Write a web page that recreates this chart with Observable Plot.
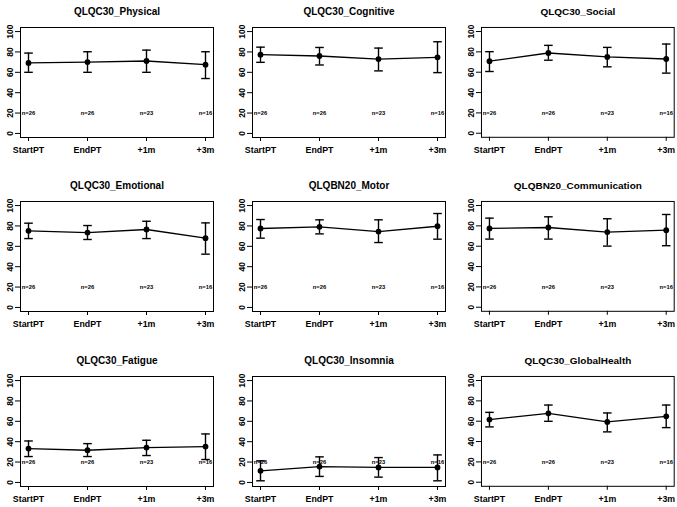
<!DOCTYPE html>
<html>
<head>
<meta charset="utf-8">
<script src="https://cdn.jsdelivr.net/npm/d3@7"></script>
<script src="https://cdn.jsdelivr.net/npm/@observablehq/plot@0.6"></script>
<style>
  html, body { margin: 0; padding: 0; background: #fff; }
  #chart { position: relative; width: 677px; height: 507px; overflow: hidden; background: #fff; }
  #chart > div { position: absolute; }
  svg { overflow: visible; }
</style>
</head>
<body>
<div id="chart"></div>
<script>
// ---- data ----
const timepoints = ["StartPT", "EndPT", "+1m", "+3m"];
const nCounts = [26, 26, 23, 16];
const nLabelY = 20;
const yTicks = [0, 20, 40, 60, 80, 100];

const panelTitles = [
  "QLQC30_Physical", "QLQC30_Cognitive", "QLQC30_Social",
  "QLQC30_Emotional", "QLQBN20_Motor", "QLQBN20_Communication",
  "QLQC30_Fatigue", "QLQC30_Insomnia", "QLQC30_GlobalHealth"
];

const physicalMean = [69.2, 70.1, 71.1, 67.5];
const physicalLo   = [60.0, 60.0, 60.0, 53.9];
const physicalHi   = [78.9, 80.2, 81.8, 80.2];

const cognitiveMean = [77.3, 76.0, 73.0, 74.7];
const cognitiveLo   = [69.8, 67.2, 61.4, 59.7];
const cognitiveHi   = [84.7, 84.4, 83.8, 90.0];

const socialMean = [70.8, 78.9, 75.0, 73.0];
const socialLo   = [60.7, 71.8, 65.3, 59.1];
const socialHi   = [80.2, 86.4, 84.4, 87.7];

const emotionalMean = [75.2, 73.5, 76.5, 68.0];
const emotionalLo   = [67.6, 66.7, 67.6, 52.3];
const emotionalHi   = [82.7, 80.4, 84.6, 83.0];

const motorMean = [77.5, 79.1, 74.5, 79.7];
const motorLo   = [68.0, 72.2, 63.7, 67.0];
const motorHi   = [86.3, 86.0, 86.0, 92.2];

const communicationMean = [77.5, 78.4, 73.9, 75.8];
const communicationLo   = [67.0, 67.0, 60.1, 60.5];
const communicationHi   = [87.6, 88.9, 87.0, 91.2];

const fatigueMean = [33.2, 31.6, 34.2, 35.2];
const fatigueLo   = [25.4, 25.4, 26.4, 22.5];
const fatigueHi   = [40.7, 38.1, 41.4, 47.6];

const insomniaMean = [11.4, 15.6, 14.7, 14.7];
const insomniaLo   = [1.6, 5.9, 5.2, 1.6];
const insomniaHi   = [21.2, 25.1, 24.4, 27.0];

const globalMean = [61.6, 67.8, 59.3, 64.8];
const globalLo   = [54.4, 59.9, 49.5, 53.7];
const globalHi   = [68.7, 75.9, 68.1, 75.9];

const panelSeries = [
  [physicalMean, physicalLo, physicalHi],
  [cognitiveMean, cognitiveLo, cognitiveHi],
  [socialMean, socialLo, socialHi],
  [emotionalMean, emotionalLo, emotionalHi],
  [motorMean, motorLo, motorHi],
  [communicationMean, communicationLo, communicationHi],
  [fatigueMean, fatigueLo, fatigueHi],
  [insomniaMean, insomniaLo, insomniaHi],
  [globalMean, globalLo, globalHi]
];

// ---- layout ----
const frameLefts = [19.5, 251.7, 481.3];
const frameTops = [26.5, 201, 375.5];
const frameW = 193, frameH = 110;
const mL = 22, mR = 3, mT = 28, mB = 26;

const FONT = "'Liberation Sans', Arial, Helvetica, sans-serif";

// horizontal cap symbol for error bars
const capSymbol = {
  draw(context, size) {
    const w = Math.sqrt(size / Math.PI);
    context.moveTo(-w, 0);
    context.lineTo(w, 0);
  }
};

const container = document.getElementById("chart");

panelTitles.forEach((title, i) => {
  const col = i % 3, row = Math.floor(i / 3);
  const [m, lo, hi] = panelSeries[i];
  const rows = timepoints.map((t, k) => ({time: t, mean: m[k], lo: lo[k], hi: hi[k], n: "n=" + nCounts[k]}));

  const plot = Plot.plot({
    width: mL + frameW + mR,
    height: mT + frameH + mB,
    marginLeft: mL, marginRight: mR, marginTop: mT, marginBottom: mB,
    style: {fontFamily: FONT, background: "transparent", color: "black", overflow: "visible"},
    x: {type: "point", domain: timepoints, padding: 0.12},
    y: {domain: [-4, 104]},
    marks: [
      Plot.frame({stroke: "black", strokeWidth: 1}),
      Plot.axisX({tickSize: 4, tickPadding: 5, fontSize: 8.8, fontWeight: "bold", label: null}),
      Plot.axisY({ticks: yTicks, tickSize: 5, tickPadding: 2.5, tickRotate: -90, fontSize: 8.5, fontWeight: "bold", label: null}),
      Plot.text(rows, {x: "time", y: () => nLabelY, text: "n", fontSize: 5.8, fontWeight: "bold", fill: "black"}),
      Plot.ruleX(rows, {x: "time", y1: "lo", y2: "hi", stroke: "black", strokeWidth: 1.4}),
      Plot.dot(rows, {x: "time", y: "lo", symbol: capSymbol, r: 4.3, stroke: "black", strokeWidth: 1.4, fill: "none"}),
      Plot.dot(rows, {x: "time", y: "hi", symbol: capSymbol, r: 4.3, stroke: "black", strokeWidth: 1.4, fill: "none"}),
      Plot.line(rows, {x: "time", y: "mean", stroke: "black", strokeWidth: 1.3}),
      Plot.dot(rows, {x: "time", y: "mean", r: 2.9, fill: "black", stroke: "none"}),
      Plot.text([title], {text: d => d, frameAnchor: "top", dy: -20, fontSize: 10, fontWeight: "bold", fill: "black"})
    ]
  });

  const wrap = document.createElement("div");
  wrap.style.left = (frameLefts[col] - mL) + "px";
  wrap.style.top = (frameTops[row] - mT) + "px";
  wrap.appendChild(plot);
  container.appendChild(wrap);
});
</script>
</body>
</html>
